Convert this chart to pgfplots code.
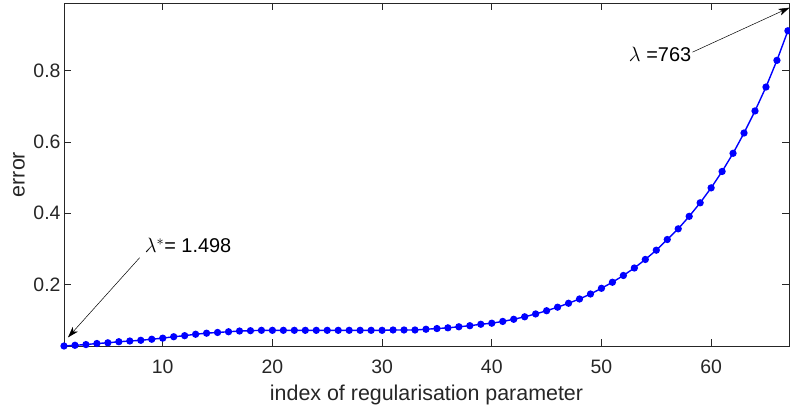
\documentclass[border=0pt]{standalone}
\usepackage{pgfplots}
\pgfplotsset{compat=1.18}
\usepackage{fontspec}
\setmainfont{Liberation Sans}
\usetikzlibrary{arrows.meta}
\definecolor{axgray}{rgb}{0.15,0.15,0.15}
\definecolor{mblue}{rgb}{0,0,1}
\pgfplotstableread{
x y
1 0.027
2 0.029
3 0.031
4 0.034
5 0.036
6 0.039
7 0.041
8 0.043
9 0.046
10 0.049
11 0.053
12 0.056
13 0.060
14 0.063
15 0.065
16 0.067
17 0.069
18 0.070
19 0.071
20 0.071
21 0.071
22 0.071
23 0.071
24 0.071
25 0.071
26 0.071
27 0.071
28 0.071
29 0.071
30 0.071
31 0.072
32 0.072
33 0.072
34 0.074
35 0.076
36 0.078
37 0.081
38 0.084
39 0.088
40 0.091
41 0.096
42 0.102
43 0.109
44 0.117
45 0.126
46 0.136
47 0.147
48 0.159
49 0.173
50 0.189
51 0.206
52 0.225
53 0.246
54 0.270
55 0.296
56 0.326
57 0.356
58 0.391
59 0.429
60 0.471
61 0.517
62 0.568
63 0.625
64 0.687
65 0.754
66 0.829
67 0.912
}\errdata
\begin{document}
\begin{tikzpicture}
\useasboundingbox (-64bp,-64bp) rectangle (726bp,346bp);
\begin{axis}[
  at={(0,0)}, anchor=south west,
  scale only axis,
  width=725bp, height=343bp,
  xmin=1, xmax=67.1,
  ymin=0.027, ymax=0.99,
  xtick={10,20,30,40,50,60},
  ytick={0.2,0.4,0.6,0.8},
  yticklabel style={/pgf/number format/fixed, /pgf/number format/precision=1, /pgf/number format/fixed zerofill},
  /pgf/number format/assume math mode=true,
  tick label style={font=\fontsize{19.5}{23}\selectfont, text=axgray},
  xticklabel style={anchor=base, yshift=-27bp},
  label style={font=\fontsize{21.5}{26}\selectfont, text=axgray},
  xlabel={index of regularisation parameter},
  ylabel={error},
  xlabel style={at={(axis description cs:0.5,-0.143)}, anchor=center},
  ylabel style={at={(axis description cs:-0.062,0.5)}, anchor=center, rotate=0},
  axis line style={axgray, line width=0.8bp},
  tick style={axgray, line width=0.8bp},
  tick align=inside,
  major tick length=7bp,
  clip=false,
]
\addplot[mblue, line width=1.4bp, mark=*, mark size=2.9bp, mark options={fill=mblue, draw=mblue}] table[x=x,y=y] {\errdata};
\draw[line width=0.5bp, -{Stealth[length=11bp,width=7bp,inset=3bp]}] (axis cs:7.9,0.275) -- (axis cs:1.36,0.051);
\node[anchor=base west, inner sep=0, font=\fontsize{20}{24}\selectfont] at (axis cs:8.35,0.289) {$\lambda^{*}$= 1.498};
\draw[line width=0.5bp, -{Stealth[length=11bp,width=7bp,inset=3bp]}] (axis cs:58.3,0.852) -- (axis cs:67.15,0.977);
\node[anchor=base east, inner sep=0, font=\fontsize{20}{24}\selectfont] at (axis cs:58.2,0.827) {$\lambda$ =763};
\end{axis}
\end{tikzpicture}
\end{document}
